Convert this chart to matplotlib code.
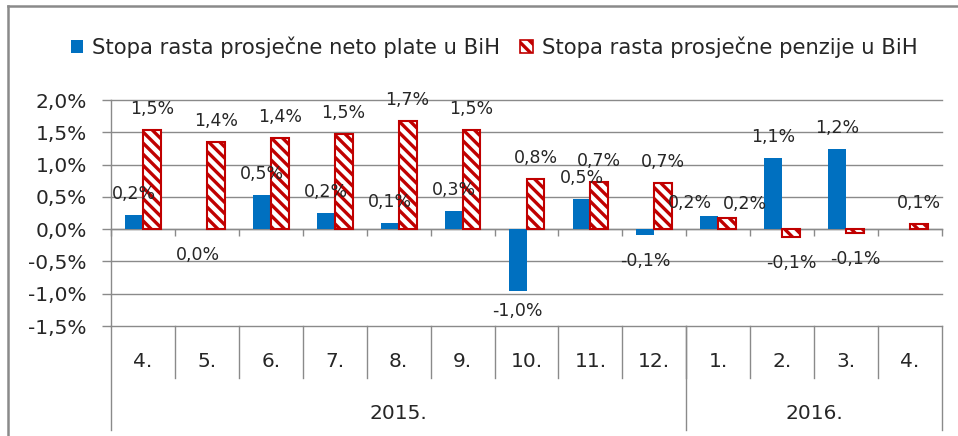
import numpy as np
import matplotlib
matplotlib.use("Agg")
import matplotlib.pyplot as plt
from matplotlib.lines import Line2D
from matplotlib.patches import Patch
import matplotlib.transforms as mtransforms

# ---- data ----
months = ["4.", "5.", "6.", "7.", "8.", "9.", "10.", "11.", "12.", "1.", "2.", "3.", "4."]
years = ["2015.", "2016."]
year_spans = [(0, 8), (9, 12)]  # first and last month index of each year
plate = [0.22, 0.00, 0.53, 0.25, 0.09, 0.28, -0.96, 0.46, -0.09, 0.21, 1.10, 1.24, np.nan]
penzije = [1.53, 1.35, 1.41, 1.47, 1.67, 1.53, 0.77, 0.73, 0.71, 0.18, -0.12, -0.06, 0.08]
series_names = ["Stopa rasta prosječne neto plate u BiH",
                "Stopa rasta prosječne penzije u BiH"]
y_ticks = [-1.5, -1.0, -0.5, 0.0, 0.5, 1.0, 1.5, 2.0]
y_tick_labels = ["-1,5%", "-1,0%", "-0,5%", "0,0%", "0,5%", "1,0%", "1,5%", "2,0%"]

# ---- style ----
W, H = 958, 436
BLUE = "#0070C0"
RED = "#C00000"
GRAY = "#8A8A8A"
TXT = "#262626"
plt.rcParams["font.family"] = ["DejaVu Sans"]
plt.rcParams["hatch.linewidth"] = 2.4
plt.rcParams["hatch.color"] = RED

# manual label nudges (in pixels, +y = up) for crowded labels: (series, index) -> (dx, dy)
nudges = {(0, 9): (-19, -8), (1, 9): (18, -7), (0, 6): (0, 6)}

fig = plt.figure(figsize=(W / 100, H / 100), dpi=100)
fig.patch.set_facecolor("white")

def px(x, y):
    return x / W, 1 - y / H

left, top, right, bottom = 111, 100, 942, 326
ax = fig.add_axes([left / W, 1 - bottom / H, (right - left) / W, (bottom - top) / H])

n = len(months)
x = np.arange(n)
bw = 0.28
ax.bar(x - bw / 2, plate, width=bw, color=BLUE, edgecolor="none", zorder=3)
ax.bar(x + bw / 2, penzije, width=bw, color="white", edgecolor=RED,
       hatch="\\\\\\", linewidth=1.5, zorder=3)

ax.set_xlim(-0.5, n - 0.5)
ax.set_ylim(y_ticks[0], y_ticks[-1])
ax.set_yticks(y_ticks)
ax.set_yticklabels(y_tick_labels, fontsize=14.5, color=TXT)
ax.yaxis.grid(True, color=GRAY, linewidth=1.0, zorder=0)
for gl in ax.get_ygridlines():
    gl.set_clip_on(False)
ax.set_axisbelow(True)
ax.tick_params(axis="y", length=6.5, width=1.0, color=GRAY, pad=11)

for s in ["top", "right"]:
    ax.spines[s].set_visible(False)
ax.spines["left"].set_color(GRAY)
ax.spines["left"].set_linewidth(1.0)
ax.spines["bottom"].set_position(("data", 0))
ax.spines["bottom"].set_color(GRAY)
ax.spines["bottom"].set_linewidth(1.0)
ax.set_xticks(np.arange(-0.5, n, 1.0))
ax.tick_params(axis="x", length=5, width=1.0, color=GRAY, labelbottom=False)

# data labels
def fmt(v):
    return f"{v:.1f}%".replace(".", ",").replace("-0,0", "0,0")

for si, (vals, off) in enumerate(((plate, -bw / 2), (penzije, bw / 2))):
    for i, v in enumerate(vals):
        if np.isnan(v):
            continue
        dy = 15.1 if v > 0 else -18.7
        ndx, ndy = nudges.get((si, i), (0, 0))
        ax.annotate(fmt(v), (i + off, v), xytext=(ndx * 0.72, dy + ndy * 0.72),
                    textcoords="offset points", ha="center", va="center",
                    fontsize=12.5, color=TXT, zorder=5)

# multi-level category axis
trans = mtransforms.blended_transform_factory(ax.transData, ax.transAxes)
ph = bottom - top
month_y = -(361.7 - bottom) / ph
year_y = -(413 - bottom) / ph
mline = -(378 - bottom) / ph
yline = -(430 - bottom) / ph
for i, m in enumerate(months):
    ax.text(i, month_y, m, transform=trans, ha="center", va="center",
            fontsize=14.5, color=TXT)
for k in range(n - 1):
    ax.plot([k + 0.5, k + 0.5], [0, mline], transform=trans, color=GRAY,
            lw=1.0, clip_on=False)
bounds = [-0.5] + [s[1] + 0.5 for s in year_spans]
for b in bounds:
    ax.plot([b, b], [0, yline], transform=trans, color=GRAY, lw=1.0, clip_on=False)
for yname, (a, b) in zip(years, year_spans):
    ax.text((a + b) / 2, year_y, yname, transform=trans, ha="center", va="center",
            fontsize=14.5, color=TXT)

# legend
handles = [Patch(facecolor=BLUE, edgecolor="none"),
           Patch(facecolor="white", edgecolor=RED, hatch="\\\\\\", linewidth=1.2)]
fig.legend(handles, series_names, loc="center", bbox_to_anchor=px(494, 47), ncol=2,
           frameon=False, fontsize=15.2, handlelength=0.6, handleheight=0.6,
           handletextpad=0.42, columnspacing=0.95, borderpad=0, labelcolor=TXT)

# chart border (partially cropped)
fig.add_artist(Line2D([8 / W, 8 / W], [0, 1 - 6.5 / H], color=GRAY, lw=1.8))
fig.add_artist(Line2D([8 / W, 1], [1 - 6.5 / H, 1 - 6.5 / H], color=GRAY, lw=1.8))

fig.savefig("out.png", dpi=100)
